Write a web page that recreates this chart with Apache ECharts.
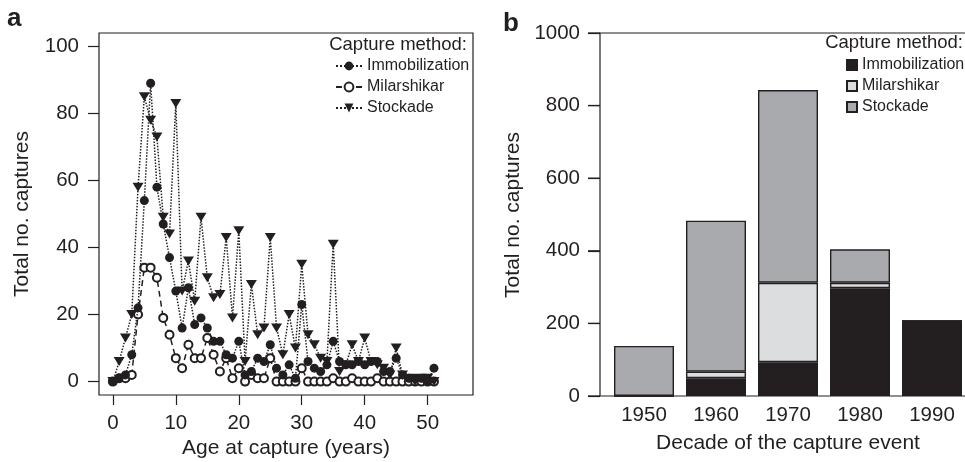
<!DOCTYPE html>
<html><head><meta charset="utf-8">
<script src="https://cdn.jsdelivr.net/npm/echarts@6/dist/echarts.min.js"></script>
<style>html,body{margin:0;padding:0;background:#fff}#c{width:965px;height:462px}</style>
</head><body><div id="c"></div>
<script>
// ---- Panel a data (age at capture, total no. captures) ----
const ages = [0,1,2,3,4,5,6,7,8,9,10,11,12,13,14,15,16,17,18,19,20,21,22,23,24,25,26,27,28,29,30,31,32,33,34,35,36,37,38,39,40,41,42,43,44,45,46,47,48,49,50,51];
const immobilization = [0,1,2,8,22,54,89,58,47,37,27,16,28,17,19,16,12,12,8,7,12,2,3,7,6,11,4,2,5,1,23,6,4,3,5,12,6,5,5,6,5,6,6,3,3,7,2,1,1,1,0,4];
const milarshikar = [0,1,1,2,20,34,34,31,19,14,7,4,11,7,7,13,8,3,7,1,4,0,2,1,1,7,0,0,0,0,4,0,0,0,0,1,0,0,1,0,0,0,1,0,0,0,0,0,0,0,0,0];
const stockade = [0,6,13,20,58,85,78,73,49,44,83,27,36,24,49,31,25,26,43,19,45,6,29,14,16,43,16,8,20,10,35,14,11,7,6,41,3,5,11,6,13,6,5,4,2,10,2,1,0,1,1,0];

// ---- Panel b data (decade of capture event) ----
const decades = ['1950','1960','1970','1980','1990'];
const decImmobilization = [0,49,93,297,207];
const decMilarshikar = [0,18,219,15,0];
const decStockade = [138,416,531,92,0];
const countTicksB = [0,200,400,600,800,1000];

const INK = '#231f20';
const FONT = "'Liberation Sans', Arial, Helvetica, sans-serif";
const pairs = (arr) => ages.map((a, i) => [a, arr[i]]);

// panel a plot box (R-style 4% extended ranges)
const A = {left: 99, top: 33, width: 374, height: 362, xMin: -2.2, xMax: 57.2, yMin: -4, yMax: 104};
const ax = (v) => A.left + (v - A.xMin) / (A.xMax - A.xMin) * A.width;
const ay = (v) => A.top + (A.yMax - v) / (A.yMax - A.yMin) * A.height;
const TICK = 11;
// panel b plot box
const B = {left: 600, top: 33, width: 376, height: 363};
const TICKB = 12;

const chart = echarts.init(document.getElementById('c'), null, {renderer: 'canvas'});
const txt = (text, x, y, size, opts) => Object.assign({
  type: 'text', x: x, y: y, silent: true,
  style: Object.assign({text: text, fill: INK, font: size + 'px ' + FONT, align: 'center', verticalAlign: 'middle'}, (opts && opts.style) || {})
}, (opts && opts.el) || {});

const tickLines = () => ({show: true, showMinLine: true, showMaxLine: true, lineStyle: {color: INK, width: 1.2, type: 'solid', opacity: 1}});
const labelStyle = () => ({fontSize: 20.5, color: INK, fontFamily: FONT});
const off = () => ({show: false});
const dummy = (g) => ({gridIndex: g, type: 'value', min: 0, max: 1, show: false});
const G = (o) => Object.assign({show: false, containLabel: false, outerBoundsMode: 'none'}, o);

const staticGraphics = [
  txt('a', 7, 19, 26, {style: {align: 'left', font: 'bold 26px ' + FONT}}),
  txt('b', 503, 24, 26, {style: {align: 'left', font: 'bold 26px ' + FONT}}),
  txt('Capture method:', 467, 45, 18.5, {style: {align: 'right'}}),
  txt('Capture method:', 963, 43, 18.5, {style: {align: 'right'}}),
  txt('Total no. captures', 22, 214, 21, {el: {rotation: Math.PI / 2}}),
  txt('Age at capture (years)', 286, 448, 21),
  txt('Total no. captures', 513, 215, 21, {el: {rotation: Math.PI / 2}}),
  txt('Decade of the capture event', 788, 443, 21)
];

chart.setOption({
  animation: false,
  backgroundColor: '#fff',
  textStyle: {fontFamily: FONT, color: INK},
  grid: [
    G({left: A.left, top: A.top, width: A.width, height: A.height, show: true, borderColor: INK, borderWidth: 1.2, backgroundColor: 'transparent'}),
    G({left: B.left, top: B.top, width: B.width, height: B.height, show: true, borderColor: INK, borderWidth: 1.2, backgroundColor: 'transparent'}),
    G({left: 608, top: B.top, width: 360, height: B.height}),
    G({left: A.left - TICK, top: ay(100), width: TICK, height: ay(0) - ay(100)}),
    G({left: ax(0), top: A.top + A.height, width: ax(50) - ax(0), height: 10}),
    G({left: B.left - TICKB, top: B.top, width: TICKB, height: B.height})
  ],
  xAxis: [
    {gridIndex: 0, type: 'value', min: A.xMin, max: A.xMax, show: false},
    {gridIndex: 1, type: 'value', min: 0, max: 1, show: false},
    {gridIndex: 2, type: 'category', data: decades,
     axisLine: off(), axisTick: off(), splitLine: off(),
     axisLabel: Object.assign({margin: 9}, labelStyle())},
    dummy(3),
    {gridIndex: 4, type: 'value', min: 0, max: 50, interval: 10, position: 'bottom',
     axisLine: off(), axisTick: off(), splitLine: tickLines(),
     axisLabel: Object.assign({margin: 8}, labelStyle())},
    dummy(5)
  ],
  yAxis: [
    {gridIndex: 0, type: 'value', min: A.yMin, max: A.yMax, show: false},
    {gridIndex: 1, type: 'value', min: 0, max: 1000, show: false},
    {gridIndex: 2, type: 'value', min: 0, max: 1000, show: false},
    {gridIndex: 3, type: 'value', min: 0, max: 100, interval: 20, position: 'left',
     axisLine: off(), axisTick: off(), splitLine: tickLines(),
     axisLabel: Object.assign({margin: 9, formatter: (v) => String(v)}, labelStyle())},
    dummy(4),
    {gridIndex: 5, type: 'value', min: 0, max: 1000, interval: 200, position: 'left',
     axisLine: off(), axisTick: off(), splitLine: tickLines(),
     axisLabel: Object.assign({margin: 8, formatter: (v) => String(v)}, labelStyle())}
  ],
  legend: [
    {data: ['Immobilization','Milarshikar','Stockade'], orient: 'vertical', left: 335, top: 55.5,
     itemWidth: 26, itemHeight: 11, itemGap: 0, padding: 0, selectedMode: false,
     textStyle: {fontSize: 16, lineHeight: 21, color: INK, fontFamily: FONT}},
    {data: ['b:Immobilization','b:Milarshikar','b:Stockade'], orient: 'vertical', left: 846, top: 54.5,
     itemWidth: 10, itemHeight: 10, itemGap: 0, padding: 0, selectedMode: false, icon: 'rect',
     formatter: (n) => n.slice(2),
     textStyle: {fontSize: 16, lineHeight: 21, color: INK, fontFamily: FONT}}
  ],
  series: [
    {name: 'Milarshikar', type: 'line', xAxisIndex: 0, yAxisIndex: 0, data: pairs(milarshikar),
     symbol: 'emptyCircle', symbolSize: 8,
     itemStyle: {color: INK, borderColor: INK, borderWidth: 1.3},
     lineStyle: {color: INK, width: 1.5, type: [6, 4]}, z: 2},
    {name: 'Stockade', type: 'line', xAxisIndex: 0, yAxisIndex: 0, data: pairs(stockade),
     symbol: 'triangle', symbolRotate: 180, symbolSize: [11, 9],
     itemStyle: {color: INK},
     lineStyle: {color: INK, width: 1.5, type: 'dotted'}, z: 3},
    {name: 'Immobilization', type: 'line', xAxisIndex: 0, yAxisIndex: 0, data: pairs(immobilization),
     symbol: 'circle', symbolSize: 9,
     itemStyle: {color: INK},
     lineStyle: {color: INK, width: 1.5, type: 'dotted'}, z: 4},
    {name: 'b:Immobilization', type: 'bar', xAxisIndex: 2, yAxisIndex: 2, stack: 'd', data: decImmobilization,
     barWidth: 60, itemStyle: {color: INK, borderColor: INK, borderWidth: 1.4}},
    {name: 'b:Milarshikar', type: 'bar', xAxisIndex: 2, yAxisIndex: 2, stack: 'd', data: decMilarshikar,
     barWidth: 60, itemStyle: {color: '#dcdddf', borderColor: INK, borderWidth: 1.4}},
    {name: 'b:Stockade', type: 'bar', xAxisIndex: 2, yAxisIndex: 2, stack: 'd', data: decStockade,
     barWidth: 60, itemStyle: {color: '#a8aaad', borderColor: INK, borderWidth: 1.4}}
  ],
  graphic: staticGraphics
});

// panel b y-axis tick marks: positions come from panel b's own value scale
const tickGraphics = countTicksB.map((v) => {
  const py = chart.convertToPixel({yAxisIndex: 1}, v);
  const px = chart.convertToPixel({xAxisIndex: 1}, 0);
  return {type: 'line', silent: true, z: 100, zlevel: 0,
          shape: {x1: px - TICKB, y1: py, x2: px, y2: py},
          style: {stroke: INK, lineWidth: 1.3}};
});
chart.setOption({graphic: staticGraphics.concat(tickGraphics)});
</script>
</body></html>
